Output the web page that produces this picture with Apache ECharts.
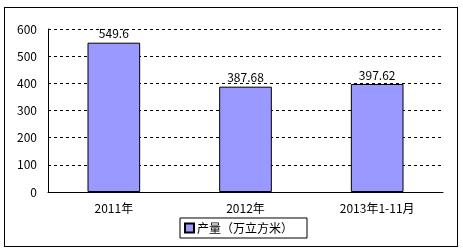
<!DOCTYPE html>
<html><head><meta charset="utf-8">
<script src="https://cdn.jsdelivr.net/npm/echarts@6/dist/echarts.min.js"></script>
<style>html,body{margin:0;padding:0;background:#fff}#c{width:463px;height:251px}
#frame{position:absolute;left:4px;top:7px;width:452px;height:238px;border:1px solid #000;pointer-events:none}</style>
</head><body><div id="c"></div><div id="frame"></div>
<script>
var categories = ['2011年', '2012年', '2013年1-11月'];
var values = [549.6, 387.68, 397.62];
var seriesName = '产量（万立方米）';
var yMin = 0, yMax = 600, yStep = 100;

var font = 'SimSun, "Noto Sans CJK SC", sans-serif';
var chart = echarts.init(document.getElementById('c'));
chart.setOption({
  animation: false,
  grid: {left: 48, right: 20, top: 29, bottom: 59},
  legend: {
    data: [seriesName], bottom: 13, left: 180,
    itemWidth: 9, itemHeight: 9, itemGap: 2,
    icon: 'rect',
    padding: [4, 14, 4, 4],
    borderColor: '#000', borderWidth: 1,
    textStyle: {fontFamily: font, fontSize: 12, color: '#000', padding: [0, 0, 0, -2]}
  },
  xAxis: {
    type: 'category', data: categories,
    axisLine: {lineStyle: {color: '#000', width: 1}},
    axisTick: {inside: true, length: 5, lineStyle: {color: '#000'}},
    axisLabel: {color: '#000', fontFamily: font, fontSize: 12, margin: 10}
  },
  yAxis: {
    type: 'value', min: yMin, max: yMax, interval: yStep,
    axisLine: {show: true, lineStyle: {color: '#000', width: 1}},
    axisTick: {show: false},
    axisLabel: {color: '#000', fontFamily: font, fontSize: 12, margin: 11},
    splitLine: {lineStyle: {color: '#000', type: [3, 3], width: 1}}
  },
  series: [{
    name: seriesName, type: 'bar', data: values, barWidth: '40%',
    itemStyle: {color: '#9999FF', borderColor: '#000', borderWidth: 1},
    label: {show: true, position: 'top', distance: 3, color: '#000', fontFamily: font, fontSize: 12}
  }]
});
</script></body></html>
